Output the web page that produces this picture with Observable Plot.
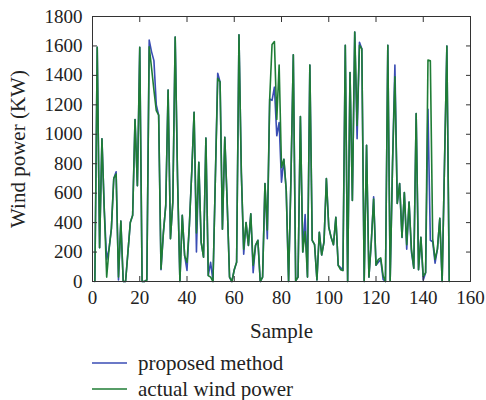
<!DOCTYPE html>
<html>
<head>
<meta charset="utf-8">
<script src="https://cdn.jsdelivr.net/npm/d3@7"></script>
<script src="https://cdn.jsdelivr.net/npm/@observablehq/plot@0.6"></script>
<style>
  html, body { margin: 0; padding: 0; background: #fff; }
  #chart { position: relative; width: 486px; height: 400px; font-family: "Liberation Serif", "DejaVu Serif", serif; }
  #chart > svg { position: absolute; left: 0; top: 0; }
  .legend { position: absolute; left: 92px; top: 350px; font-size: 21px; color: #222; }
  .legend .row { display: flex; align-items: center; height: 26px; }
  .legend svg { margin-right: 11px; }
</style>
</head>
<body>
<div id="chart"></div>
<script>
// Sample index runs 1..151
const actual = [
  0, 1590, 230, 970, 480, 30, 220, 360, 700, 730,
  30, 410, 0, 0, 200, 400, 450, 1100, 650, 1590,
  0, 0, 10, 1595, 1450, 1300, 1160, 1130, 85, 330,
  515, 1300, 290, 540, 1660, 700, 0, 450, 175, 130,
  380, 740, 1150, 330, 810, 265, 165, 975, 40, 30,
  0, 700, 1380, 1355, 355, 980, 540, 30, 0, 80,
  130, 1675, 740, 220, 400, 245, 460, 110, 245, 280,
  0, 30, 665, 350, 1240, 1610, 1630, 1100, 1470, 775,
  830, 620, 0, 700, 1540, 5, 30, 1120, 200, 340,
  30, 1470, 280, 250, 10, 335, 180, 270, 700, 370,
  300, 250, 436, 110, 80, 75, 1605, 0, 1420, 550,
  1695, 1060, 1605, 1580, 0, 925, 30, 265, 560, 110,
  150, 160, 40, 0, 1605, 5, 800, 1390, 530, 665,
  300, 605, 250, 540, 220, 90, 1140, 80, 300, 35,
  60, 1505, 1500, 290, 150, 220, 430, 0, 800, 1600,
  0
];
const proposed = [
  0, 1590, 230, 970, 480, 150, 220, 360, 700, 745,
  10, 410, 0, 0, 200, 400, 450, 1100, 650, 1590,
  0, 0, 10, 1640, 1560, 1500, 1200, 1130, 80, 330,
  515, 1300, 290, 540, 1660, 700, 0, 450, 175, 75,
  380, 740, 1150, 200, 810, 265, 165, 975, 40, 130,
  0, 700, 1415, 1355, 355, 980, 540, 30, 0, 80,
  130, 1675, 740, 185, 400, 245, 460, 60, 245, 280,
  0, 30, 665, 290, 1240, 1230, 1320, 990, 1080, 675,
  830, 620, 0, 700, 1540, 5, 30, 1120, 200, 455,
  30, 1470, 280, 250, 10, 335, 180, 270, 700, 370,
  300, 250, 436, 110, 95, 75, 1605, 0, 1420, 550,
  1695, 970, 1625, 1580, 0, 925, 30, 265, 575, 110,
  130, 150, 15, 0, 1605, 5, 800, 1470, 530, 665,
  300, 605, 220, 540, 200, 90, 1140, 80, 300, 10,
  60, 1170, 280, 270, 125, 220, 430, 0, 800, 1600,
  0
];
const xTicks = [0, 20, 40, 60, 80, 100, 120, 140, 160];
const yTicks = [0, 200, 400, 600, 800, 1000, 1200, 1400, 1600, 1800];
const seriesNames = ["proposed method", "actual wind power"];
const seriesColors = ["#3a4db4", "#1f7d35"];

const rows = [];
proposed.forEach((v, i) => rows.push({sample: i + 1, value: v, series: seriesNames[0]}));
actual.forEach((v, i) => rows.push({sample: i + 1, value: v, series: seriesNames[1]}));

const plot = Plot.plot({
  width: 486,
  height: 346,
  marginLeft: 92,
  marginRight: 16,
  marginTop: 16,
  marginBottom: 65,
  style: {fontFamily: "Liberation Serif, DejaVu Serif, serif", fontSize: "19px", color: "#222", background: "#fff"},
  x: {domain: [0, 160]},
  y: {domain: [0, 1800]},
  color: {domain: seriesNames, range: seriesColors},
  marks: [
    Plot.line(rows.filter(d => d.series === seriesNames[0]), {x: "sample", y: "value", stroke: "series", strokeWidth: 1.6}),
    Plot.line(rows.filter(d => d.series === seriesNames[1]), {x: "sample", y: "value", stroke: "series", strokeWidth: 1.6}),
    Plot.frame({stroke: "#333", strokeWidth: 1}),
    Plot.axisX(xTicks, {anchor: "bottom", tickSize: 0, tickPadding: 9, tickFormat: d3.format("d"), label: "Sample", labelAnchor: "center", labelArrow: "none", labelOffset: 56, fontSize: 19}),
    Plot.axisX(xTicks, {anchor: "bottom", tickSize: -5, text: null, label: null, stroke: "#333"}),
    Plot.axisX(xTicks, {anchor: "top", tickSize: -5, text: null, label: null, stroke: "#333"}),
    Plot.axisY(yTicks, {anchor: "left", tickSize: 0, tickPadding: 10, tickFormat: d3.format("d"), label: "Wind power (KW)", labelAnchor: "center", labelArrow: "none", labelOffset: 82, fontSize: 19}),
    Plot.axisY(yTicks, {anchor: "left", tickSize: -5, text: null, label: null, stroke: "#333"}),
    Plot.axisY(yTicks, {anchor: "right", tickSize: -5, text: null, label: null, stroke: "#333"})
  ]
});
// enlarge axis titles slightly to match the reference typography
plot.querySelectorAll("[aria-label='x-axis label'], [aria-label='y-axis label']").forEach(g => g.setAttribute("font-size", "21"));
const chart = document.getElementById("chart");
chart.appendChild(plot);

const legend = document.createElement("div");
legend.className = "legend";
seriesNames.forEach((name, i) => {
  const row = document.createElement("div");
  row.className = "row";
  row.innerHTML = `<svg width="35" height="4"><line x1="0" y1="2" x2="35" y2="2" stroke="${seriesColors[i]}" stroke-width="1.3"></line></svg><span>${name}</span>`;
  legend.appendChild(row);
});
chart.appendChild(legend);
</script>
</body>
</html>
